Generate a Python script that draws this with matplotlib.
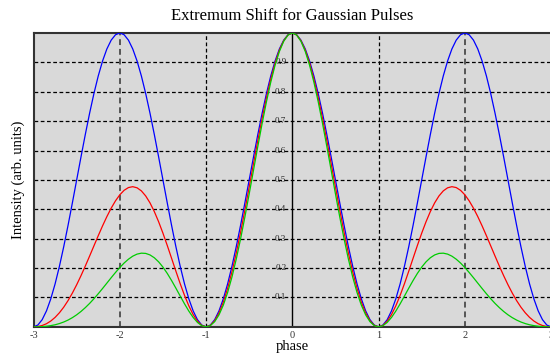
import numpy as np
import matplotlib
matplotlib.use("Agg")
import matplotlib.pyplot as plt

# intensity samples for phase 0.00 .. 3.00 (step 0.05); curves are even in phase
phase_half = [0.0, 0.05, 0.1, 0.15, 0.2, 0.25, 0.3, 0.35, 0.4, 0.45, 0.5,
              0.55, 0.6, 0.65, 0.7, 0.75, 0.8, 0.85, 0.9, 0.95, 1.0,
              1.05, 1.1, 1.15, 1.2, 1.25, 1.3, 1.35, 1.4, 1.45, 1.5,
              1.55, 1.6, 1.65, 1.7, 1.75, 1.8, 1.85, 1.9, 1.95, 2.0,
              2.05, 2.1, 2.15, 2.2, 2.25, 2.3, 2.35, 2.4, 2.45, 2.5,
              2.55, 2.6, 2.65, 2.7, 2.75, 2.8, 2.85, 2.9, 2.95, 3.0]
blue_half = [1.0, 0.9938, 0.9755, 0.9455, 0.9045, 0.8536, 0.7939, 0.7270, 0.6545, 0.5782, 0.5,
             0.4218, 0.3455, 0.2730, 0.2061, 0.1464, 0.0955, 0.0545, 0.0245, 0.0062, 0.0,
             0.0062, 0.0245, 0.0545, 0.0955, 0.1464, 0.2061, 0.2730, 0.3455, 0.4218, 0.5,
             0.5782, 0.6545, 0.7270, 0.7939, 0.8536, 0.9045, 0.9455, 0.9755, 0.9938, 1.0,
             0.9938, 0.9755, 0.9455, 0.9045, 0.8536, 0.7939, 0.7270, 0.6545, 0.5782, 0.5,
             0.4218, 0.3455, 0.2730, 0.2061, 0.1464, 0.0955, 0.0545, 0.0245, 0.0062, 0.0]
red_half = [1.0, 0.9933, 0.9736, 0.9413, 0.8973, 0.8430, 0.7797, 0.7094, 0.6339, 0.5553, 0.4756,
            0.3970, 0.3215, 0.2509, 0.1869, 0.1309, 0.0840, 0.0472, 0.0208, 0.0051, 0.0,
            0.0049, 0.0192, 0.0418, 0.0716, 0.1072, 0.1470, 0.1896, 0.2335, 0.2770, 0.3188,
            0.3576, 0.3923, 0.4218, 0.4454, 0.4626, 0.4731, 0.4769, 0.4739, 0.4646, 0.4493,
            0.4288, 0.4038, 0.3751, 0.3436, 0.3101, 0.2756, 0.2409, 0.2068, 0.1741, 0.1433,
            0.1149, 0.0894, 0.0670, 0.0480, 0.0323, 0.0199, 0.0107, 0.0046, 0.0011, 0.0]
green_half = [1.0, 0.9929, 0.9716, 0.9370, 0.8902, 0.8325, 0.7658, 0.6922, 0.6139, 0.5332, 0.4524,
              0.3737, 0.2992, 0.2306, 0.1694, 0.1169, 0.0739, 0.0408, 0.0177, 0.0043, 0.0,
              0.0040, 0.0151, 0.0321, 0.0537, 0.0784, 0.1048, 0.1317, 0.1577, 0.1819, 0.2033,
              0.2212, 0.2351, 0.2447, 0.2499, 0.2507, 0.2475, 0.2405, 0.2302, 0.2172, 0.2019,
              0.1850, 0.1672, 0.1488, 0.1305, 0.1127, 0.0957, 0.0798, 0.0654, 0.0524, 0.0410,
              0.0313, 0.0231, 0.0165, 0.0112, 0.0071, 0.0042, 0.0021, 0.0009, 0.0002, 0.0]

def mirror(vals, neg=False):
    v = np.asarray(vals)
    left = -v[:0:-1] if neg else v[:0:-1]
    return np.concatenate([left, v])

phase = mirror(phase_half, neg=True)
blue = mirror(blue_half)
red = mirror(red_half)
green = mirror(green_half)

xticks = [-3, -2, -1, 0, 1, 2, 3]
yticks = [0.1, 0.2, 0.3, 0.4, 0.5, 0.6, 0.7, 0.8, 0.9]

plt.rcParams['font.family'] = ['Liberation Serif', 'DejaVu Serif']

fig = plt.figure(figsize=(5.5, 3.58), dpi=100)
ax = fig.add_axes([0.061, 0.087, 0.941, 0.821])
ax.set_facecolor('#d9d9d9')

# y labels sit on the zero line, grid drawn over them
for y in yticks:
    ax.text(-0.07, y, '%.1f' % y, ha='right', va='center', fontsize=6.5,
            color='#222222', zorder=1)

# grid
for y in yticks:
    ax.axhline(y, color='black', lw=0.9, ls=(0, (3, 2)), zorder=2)
for x in [-2, 2]:
    ax.axvline(x, color='#555555', lw=1.4, ls=(0, (3, 2)), zorder=2)
for x in [-1, 1]:
    ax.axvline(x, color='black', lw=0.9, ls=(0, (3, 2)), zorder=2)
ax.axvline(0, color='black', lw=1.0, zorder=2)

ax.plot(phase, blue, color='#0000ff', lw=0.9, zorder=3)
ax.plot(phase, red, color='#ff0000', lw=0.9, zorder=3)
ax.plot(phase, green, color='#00cc00', lw=0.9, zorder=3)

ax.set_xlim(-3, 3)
ax.set_ylim(0, 1)
ax.set_xticks(xticks)
ax.set_xticklabels([str(t) for t in xticks], fontsize=7.5, color='#333333')
ax.set_yticks([])
ax.tick_params(axis='x', length=0, pad=3)
for s in ax.spines.values():
    s.set_color('#333333')
    s.set_linewidth(1.5)

ax.set_title('Extremum Shift for Gaussian Pulses', fontsize=12, pad=9)
ax.set_xlabel('phase', fontsize=10.5, labelpad=0)
ax.set_ylabel('Intensity (arb. units)', fontsize=10.5, labelpad=6)

fig.savefig('out.png', dpi=100)
